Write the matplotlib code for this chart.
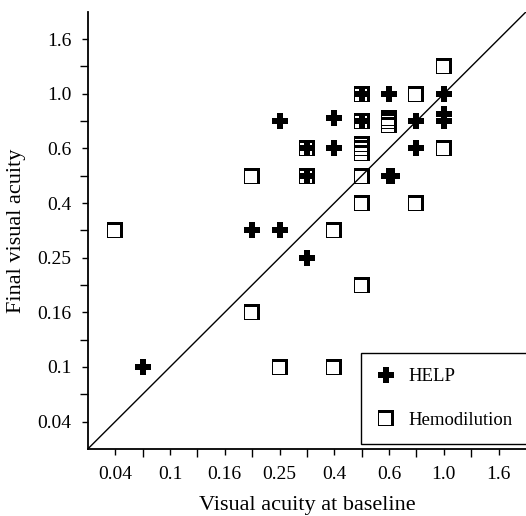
import numpy as np
import matplotlib
matplotlib.use("Agg")
import matplotlib.pyplot as plt
from matplotlib.path import Path

plt.rcParams['font.family'] = ['Liberation Serif', 'DejaVu Serif']

# acuity steps of the chart's axes, equally spaced
levels = [0.025, 0.04, 0.063, 0.1, 0.125, 0.16, 0.2, 0.25, 0.32, 0.4,
          0.5, 0.6, 0.8, 1.0, 1.25, 1.6, 2.0]
tick_vals = [0.04, 0.1, 0.16, 0.25, 0.4, 0.6, 1.0, 1.6]
tick_labels = ['0.04', '0.1', '0.16', '0.25', '0.4', '0.6', '1.0', '1.6']
minor_vals = [0.063, 0.125, 0.2, 0.32, 0.5, 0.8, 1.25]

# baseline / final visual acuity
help_base = [0.063, 0.2, 0.25, 0.25, 0.32, 0.32, 0.32, 0.4, 0.4, 0.5, 0.5,
             0.6, 0.6, 0.62, 0.8, 0.8, 1.0, 1.0, 1.0]
help_final = [0.1, 0.32, 0.32, 0.8, 0.25, 0.6, 0.5, 0.82, 0.6, 1.0, 0.8,
              1.0, 0.5, 0.5, 0.8, 0.6, 1.0, 0.8, 0.85]

hemo_base = [0.04, 0.2, 0.2, 0.25, 0.32, 0.32, 0.4, 0.4, 0.5, 0.5, 0.5, 0.5,
             0.5, 0.5, 0.5, 0.5, 0.6, 0.6, 0.6, 0.8, 0.8, 1.0, 1.0]
hemo_final = [0.32, 0.5, 0.16, 0.1, 0.6, 0.5, 0.32, 0.1, 1.0, 0.8, 0.585, 0.6,
              0.63, 0.5, 0.4, 0.2, 0.774, 0.8, 0.826, 1.0, 0.4, 1.25, 0.6]

pos = np.arange(len(levels))


def fwd(v):
    return np.interp(v, levels, pos)


def inv(p):
    return np.interp(p, pos, levels)


# open square with heavy top/right edge (shadowed box)
outer = [(-1, -1), (1, -1), (1, 1), (-1, 1), (-1, -1)]
inner = [(-0.88, -0.88), (-0.88, 0.62), (0.62, 0.62), (0.62, -0.88), (-0.88, -0.88)]
codes = [Path.MOVETO, Path.LINETO, Path.LINETO, Path.LINETO, Path.CLOSEPOLY]
box = Path(outer + inner, codes + codes)

fig = plt.figure(figsize=(5.26, 5.16), dpi=100)
ax = fig.add_axes([0.167, 0.130, 0.833, 0.847])
ax.set_xscale('function', functions=(fwd, inv))
ax.set_yscale('function', functions=(fwd, inv))

ax.plot([levels[0], levels[-1]], [levels[0], levels[-1]], color='black', lw=1.0)
ax.plot(help_base, help_final, linestyle='none', marker='P', ms=11,
        color='black', mec='black', mew=0, label='HELP')
ax.plot(hemo_base, hemo_final, linestyle='none', marker=box, ms=11,
        color='black', mew=0, label='Hemodilution')

ax.set_xlim(levels[0], levels[-1])
ax.set_ylim(levels[0], levels[-1])
ax.set_xticks(tick_vals, tick_labels)
ax.set_yticks(tick_vals, tick_labels)
ax.set_xticks(minor_vals, minor=True)
ax.set_yticks(minor_vals, minor=True)
ax.xaxis.set_minor_formatter(plt.NullFormatter())
ax.yaxis.set_minor_formatter(plt.NullFormatter())
ax.tick_params(which='major', length=4, width=1, labelsize=14, pad=8)
ax.tick_params(which='minor', length=6, width=1)

for s in ['top', 'right']:
    ax.spines[s].set_visible(False)
for s in ['left', 'bottom']:
    ax.spines[s].set_linewidth(1.3)

ax.set_xlabel('Visual acuity at baseline', fontsize=16, labelpad=10)
ax.set_ylabel('Final visual acuity', fontsize=16, labelpad=8)

leg = ax.legend(loc='lower right', bbox_to_anchor=(1.005, 0.012), fontsize=13.5,
                frameon=True, fancybox=False, edgecolor='black', framealpha=1,
                borderpad=0.8, labelspacing=1.4, handlelength=1.0,
                handletextpad=0.75, borderaxespad=0)
leg.get_frame().set_linewidth(1.0)

fig.savefig('out.png', dpi=100)
